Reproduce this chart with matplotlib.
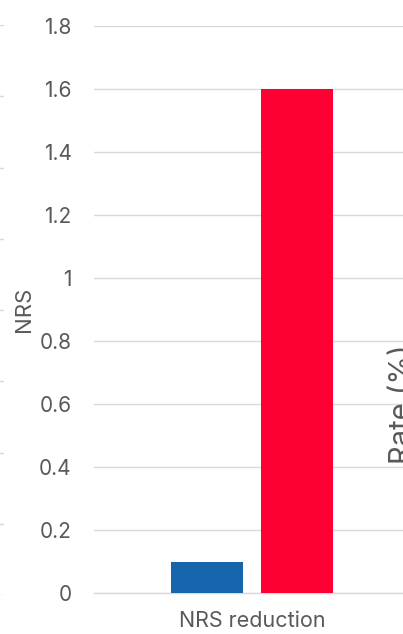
import matplotlib.pyplot as plt
import numpy as np

# data
categories = ['NRS reduction']
groups = ['Group A', 'Group B']
values = [0.1, 1.6]
colors = ['#1565ad', '#ff0033']

W, H = 403, 634
fig = plt.figure(figsize=(W/100, H/100), dpi=100)
plt.rcParams['font.family'] = ['Inter', 'DejaVu Sans']

grey_txt = '#595959'
grid_col = '#d9d9d9'

# neighbouring panel on the left (only its gridline ends show)
axl = fig.add_axes([-300/W, (H-595)/H, 304/W, 570/H])
axl.set_ylim(0, 8)
axl.set_yticks(np.arange(0, 9))
axl.set_xticks([])
axl.tick_params(left=False, labelleft=False)
axl.grid(axis='y', color=grid_col, lw=1)
for s in axl.spines.values():
    s.set_visible(False)

# main chart, right edge runs past the figure
ax = fig.add_axes([94/W, (H-593)/H, 316/W, 567/H])
ax.set_xlim(-0.5, 0.5)
ax.set_ylim(0, 1.8)
x = np.arange(len(categories))
bw = 0.228
offs = [-0.142, 0.142]
for i in range(len(groups)):
    ax.bar(x + offs[i], [values[i]], bw, color=colors[i], label=groups[i], zorder=3)

ax.set_yticks(np.arange(0, 1.81, 0.2))
ax.set_yticklabels(['0', '0.2', '0.4', '0.6', '0.8', '1', '1.2', '1.4', '1.6', '1.8'])
ax.set_xticks(x)
ax.set_xticklabels(categories)
ax.tick_params(axis='y', length=0, pad=16, labelsize=15, labelcolor=grey_txt)
ax.tick_params(axis='x', length=0, pad=13, labelsize=15.5, labelcolor=grey_txt)
ax.grid(axis='y', color=grid_col, lw=1, zorder=0)
for s in ['top', 'right', 'left']:
    ax.spines[s].set_visible(False)
ax.spines['bottom'].set_color(grid_col)
ax.spines['bottom'].set_linewidth(1)
ax.set_ylabel('NRS', fontsize=16, color=grey_txt)
ax.yaxis.set_label_coords(-60/316, 0.5)

# axis title of the panel on the right
fig.text(389/W, 1 - 404/H, 'Rate (%)', rotation=90, fontsize=21, color=grey_txt,
         ha='left', va='center')

fig.savefig('out.png', dpi=100)
